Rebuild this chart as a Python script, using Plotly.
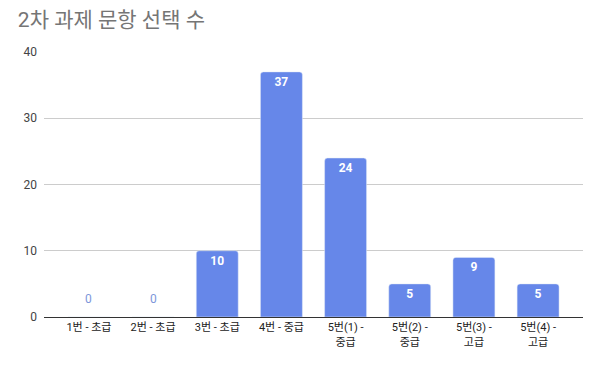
import plotly.graph_objects as go

categories = ["1번 - 초급", "2번 - 초급", "3번 - 초급", "4번 - 중급",
              "5번(1) -<br>중급", "5번(2) -<br>중급", "5번(3) -<br>고급", "5번(4) -<br>고급"]
values = [0, 0, 10, 37, 24, 5, 9, 5]
y_ticks = [0, 10, 20, 30, 40]

BAR = "#6687e9"
FONT = "Roboto, 'Noto Sans CJK KR', Arial, sans-serif"

fig = go.Figure(go.Bar(
    x=categories, y=values,
    marker=dict(color=BAR, cornerradius=3),
    text=["" if v == 0 else str(v) for v in values],
    textposition="inside",
    insidetextanchor="end",
    textangle=0,
    textfont=dict(family=FONT, size=12, color="#ffffff", weight="bold"),
))

for c, v in zip(categories, values):
    if v == 0:
        fig.add_annotation(x=c, y=v, text=str(v), showarrow=False, yanchor="middle", yshift=18,
                           font=dict(family=FONT, size=12, color="#7d96da"))

fig.update_layout(
    width=595, height=366,
    margin=dict(l=44, r=12, t=52, b=49),
    paper_bgcolor="white", plot_bgcolor="white",
    bargap=0.346,
    showlegend=False,
    title=dict(text="2차 과제 문항 선택 수", x=0.03, xanchor="left", y=0.945, yanchor="middle",
               font=dict(family=FONT, size=21, color="#757575")),
    font=dict(family=FONT),
)
fig.update_xaxes(
    range=[-0.7, 7.7], showgrid=False, showline=True, linecolor="#333333", linewidth=1,
    ticks="", tickfont=dict(family=FONT, size=11, color="#222222"), fixedrange=True,
)
fig.update_yaxes(
    range=[0, 40], tickvals=y_ticks, showgrid=True, gridcolor="#cccccc", gridwidth=1,
    zeroline=False, showline=False, ticks="", ticklabelstandoff=6,
    tickfont=dict(family=FONT, size=12, color="#444444"), fixedrange=True,
)
fig.write_html("out.html")
